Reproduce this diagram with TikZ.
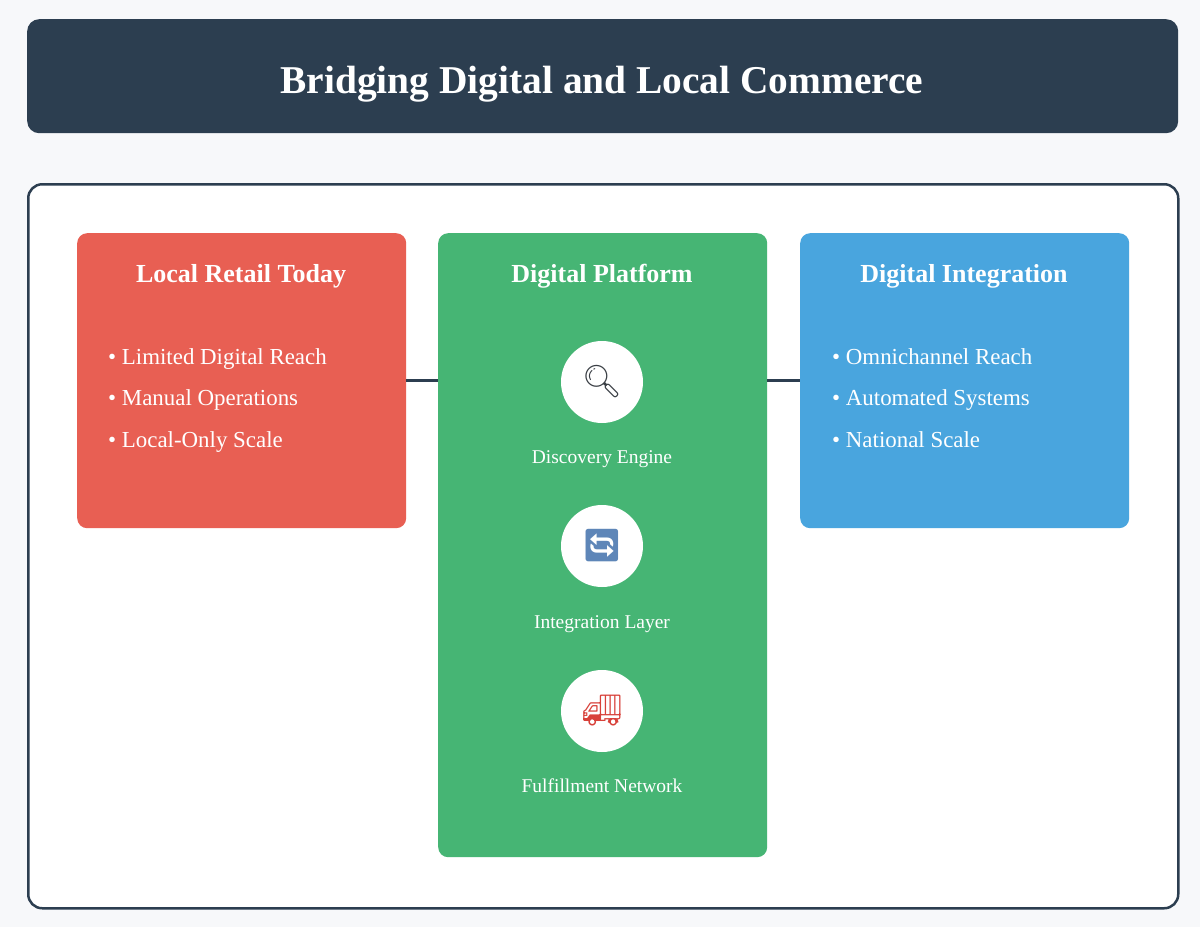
\documentclass[tikz,border=0pt]{standalone}
\usepackage{fontspec}
\setmainfont{Liberation Serif}
\newfontfamily\emojifont{Noto Emoji}
\definecolor{bgc}{HTML}{F7F8FA}
\definecolor{navy}{HTML}{2C3E50}
\definecolor{redc}{HTML}{E85F53}
\definecolor{greenc}{HTML}{46B574}
\definecolor{bluec}{HTML}{49A5DE}
\definecolor{iconblue}{HTML}{5E86B8}
\definecolor{iconred}{HTML}{D8413A}
\definecolor{icongray}{HTML}{3A3F45}
\tikzset{
  panel/.style={draw=none, rounded corners=10pt, minimum width=329pt, anchor=north west, inner sep=0pt},
  paneltitle/.style={text=white, font=\fontsize{26}{30}\selectfont\bfseries, anchor=base, inner sep=0pt},
  bullet/.style={text=white, font=\fontsize{22.9}{26}\selectfont, anchor=base west, inner sep=0pt},
  iconc/.style={circle, fill=white, minimum size=82pt, inner sep=0pt, font=\emojifont\fontsize{32}{34}\selectfont},
  iconlabel/.style={text=white, font=\fontsize{19.5}{23}\selectfont, anchor=base, inner sep=0pt},
  link/.style={draw=navy, line width=3pt}
}
\begin{document}
\begin{tikzpicture}[x=1pt,y=-1pt]
\useasboundingbox[fill=bgc] (0,0) rectangle (1200,927);
% title
\node[fill=navy, rounded corners=12pt, minimum width=1151pt, minimum height=114pt, anchor=north west, inner sep=0pt] (titlebox) at (27,19) {};
\node[text=white, font=\fontsize{39.4}{44}\selectfont\bfseries, anchor=base, inner sep=0pt] (title) at (602,93) {Bridging Digital and Local Commerce};
% container
\node[draw=navy, fill=white, line width=2.5pt, rounded corners=14pt, minimum width=1150pt, minimum height=724pt, anchor=north west, inner sep=0pt] (container) at (27,183) {};
% panels
\node[panel, fill=redc, minimum height=295pt] (local) at (77,233) {};
\node[panel, fill=greenc, minimum height=624pt] (platform) at (438,233) {};
\node[panel, fill=bluec, minimum height=295pt] (integ) at (800,233) {};
% links
\coordinate (lA) at (405,380);
\coordinate (lB) at (438,380);
\coordinate (lC) at (767,380);
\coordinate (lD) at (800,380);
\draw[link] (local.east |- lA) -- (platform.west |- lB);
\draw[link] (platform.east |- lC) -- (integ.west |- lD);
% titles
\node[paneltitle] (localt) at (241,282) {Local Retail Today};
\node[paneltitle] (platt) at (602,282) {Digital Platform};
\node[paneltitle] (integt) at (964,282) {Digital Integration};
% bullets
\node[bullet] (b1) at (108,364) {• Limited Digital Reach};
\node[bullet] (b2) at (108,405) {• Manual Operations};
\node[bullet] (b3) at (108,447) {• Local-Only Scale};
\node[bullet] (c1) at (832,364) {• Omnichannel Reach};
\node[bullet] (c2) at (832,405) {• Automated Systems};
\node[bullet] (c3) at (832,447) {• National Scale};
% icons
\node[iconc, text=icongray] (i1) at (602,382) {🔍};
\node[iconc, text=iconblue] (i2) at (602,546) {🔄};
\node[iconc, text=iconred] (i3) at (602,711) {🚚};
\node[iconlabel] (t1) at (602,463) {Discovery Engine};
\node[iconlabel] (t2) at (602,628) {Integration Layer};
\node[iconlabel] (t3) at (602,792) {Fulfillment Network};
\end{tikzpicture}
\end{document}
